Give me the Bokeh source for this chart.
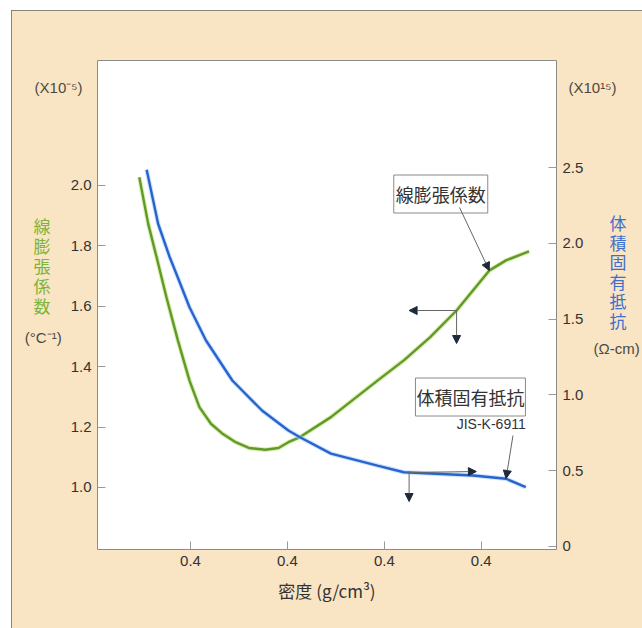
from bokeh.plotting import figure
from bokeh.models import (Range1d, LinearAxis, FixedTicker, Label, Arrow, NormalHead,
                          InlineStyleSheet)
from bokeh.embed import file_html
from bokeh.resources import INLINE

# ---------------- data ----------------
x_ticks = [1, 2, 3, 4]
x_tick_labels = ["0.4", "0.4", "0.4", "0.4"]
left_ticks = [1.0, 1.2, 1.4, 1.6, 1.8, 2.0]
left_tick_labels = ["1.0", "1.2", "1.4", "1.6", "1.8", "2.0"]
right_ticks = [0, 0.5, 1.0, 1.5, 2.0, 2.5]
right_tick_labels = ["0", "0.5", "1.0", "1.5", "2.0", "2.5"]

# linear expansion coefficient (left axis, x10^-5 /°C)
expansion_x = [0.472, 0.564, 0.650, 0.752, 0.870, 0.990, 1.092, 1.211, 1.327, 1.466,
               1.602, 1.772, 1.908, 2.010, 2.130, 2.449, 2.929, 3.201, 3.473, 3.745,
               4.085, 4.255, 4.493]
expansion_y = [2.027, 1.873, 1.763, 1.630, 1.487, 1.354, 1.266, 1.211, 1.179, 1.150,
               1.131, 1.125, 1.131, 1.150, 1.167, 1.233, 1.354, 1.421, 1.498, 1.586,
               1.719, 1.752, 1.782]

# volume resistivity (right axis, x10^15 ohm-cm)
resist_x = [0.548, 0.666, 0.786, 0.854, 0.990, 1.160, 1.432, 1.738, 2.010, 2.130,
            2.449, 2.929, 3.201, 3.915, 4.255, 4.459]
resist_y = [2.485, 2.129, 1.908, 1.799, 1.578, 1.359, 1.095, 0.897, 0.765, 0.721,
            0.613, 0.534, 0.490, 0.468, 0.447, 0.391]

# ---------------- layout helpers ----------------
W, H = 642, 628
FL, FT, FR, FB = 97, 60, 561, 549          # frame edges in page px
X0, X1 = 0.0408, 4.776
YL0, YL1 = 0.7947, 2.4139
YR0, YR1 = -0.0198, 3.206


def dx(px):
    return X0 + (px - FL) / (FR - FL) * (X1 - X0)


def dy(py):
    return YL0 + (FB - py) / (FB - FT) * (YL1 - YL0)


BEIGE = "#f9e4c4"
GREEN = "#5e9a2c"
BLUE = "#2b63cc"
NUM_FONT = "Liberation Sans"
CJK_FONT = "Noto Sans CJK JP"
NB = "\u00a0"

page_css = InlineStyleSheet(css="""
:host { position: relative; }
:host::before { content: ""; position: absolute; left: 0; top: 0; right: 0; bottom: 0;
  box-sizing: border-box; border-top: 10px solid #ffffff; border-left: 11px solid #ffffff;
  pointer-events: none; z-index: 5; }
:host::after { content: ""; position: absolute; left: 11px; top: 10px; right: 0; bottom: 0;
  box-sizing: border-box; border-top: 1.5px solid #85857a; border-left: 1.5px solid #85857a;
  pointer-events: none; z-index: 6; }
""")

p = figure(width=W, height=H, output_backend="svg", toolbar_location=None,
           x_range=Range1d(X0, X1), y_range=Range1d(YL0, YL1),
           min_border_left=FL, min_border_top=FT,
           min_border_right=W - FR, min_border_bottom=H - FB,
           stylesheets=[page_css])
p.extra_y_ranges = {"right": Range1d(YR0, YR1)}
p.background_fill_color = "white"
p.border_fill_color = BEIGE
p.outline_line_color = "#8c8c8c"
p.outline_line_width = 1
p.grid.visible = False

raxis = LinearAxis(y_range_name="right")
p.add_layout(raxis, "right")

for ax in [p.xaxis[0], p.yaxis[0], raxis]:
    ax.axis_line_color = None
    ax.major_tick_in = 8
    ax.major_tick_out = 0
    ax.major_tick_line_color = "#9a9a9a"
    ax.minor_tick_line_color = None
    ax.major_label_text_font = NUM_FONT
    ax.major_label_text_font_size = "15px"
    ax.major_label_text_color = "#333333"
    ax.major_label_standoff = 6

p.xaxis[0].ticker = FixedTicker(ticks=x_ticks)
p.xaxis[0].major_label_overrides = {t: l for t, l in zip(x_ticks, x_tick_labels)}
p.xaxis[0].axis_label = "密度 (g/cm³)"
p.xaxis[0].axis_label_text_font = CJK_FONT
p.xaxis[0].axis_label_text_font_size = "17px"
p.xaxis[0].axis_label_text_font_style = "normal"
p.xaxis[0].axis_label_text_color = "#333333"
p.xaxis[0].axis_label_standoff = 9
p.yaxis[0].ticker = FixedTicker(ticks=left_ticks)
p.yaxis[0].major_label_overrides = {t: l for t, l in zip(left_ticks, left_tick_labels)}
raxis.ticker = FixedTicker(ticks=right_ticks)
raxis.major_label_overrides = {t: l for t, l in zip(right_ticks, right_tick_labels)}


def label_axis(side, ys, texts, font, size, color, standoff, range_name="default"):
    ax = LinearAxis(y_range_name=range_name, ticker=FixedTicker(ticks=ys),
                    major_label_overrides={t: s for t, s in zip(ys, texts)})
    ax.axis_line_color = None
    ax.major_tick_line_color = None
    ax.minor_tick_line_color = None
    ax.major_label_text_font = font
    ax.major_label_text_font_size = size
    ax.major_label_text_color = color
    ax.major_label_standoff = standoff
    p.add_layout(ax, side)
    return ax


# left side: vertical title (one character per row), then unit texts
label_axis("left", [dy(225 + 20 * i) for i in range(5)], list("線膨張係数"),
           CJK_FONT, "17px", "#7cb53a", 11)
label_axis("left", [dy(87), dy(337)], ["(X10⁻⁵)", "(°C⁻¹)" + NB * 5],
           NUM_FONT, "15px", "#4a4a40", -58)

# right side
label_axis("right", [dy(222 + 19.5 * i) for i in range(6)], list("体積固有抵抗"),
           CJK_FONT, "17px", "#3f6fcc", 17)
label_axis("right", [dy(87), dy(348)], ["(X10¹⁵)", NB * 6 + "(Ω-cm)"],
           NUM_FONT, "15px", "#4a4a40", -67)

# curves
p.line(expansion_x, expansion_y, line_color="#c9e27a", line_width=4.5, line_alpha=0.6)
p.line(expansion_x, expansion_y, line_color=GREEN, line_width=2.4)
p.line(resist_x, resist_y, y_range_name="right", line_color="#a9d4ff", line_width=4.5, line_alpha=0.6)
p.line(resist_x, resist_y, y_range_name="right", line_color=BLUE, line_width=2.4)

# boxed annotations
p.add_layout(Label(x=dx(444), y=dy(193.5), text="線膨張係数", text_align="center", text_baseline="middle",
                   text_font=CJK_FONT, text_font_size="18px", text_color="#333333",
                   background_fill_color="white", border_line_color="#8a8a8a", border_line_width=1,
                   padding=(2, 6)))
p.add_layout(Label(x=dx(474), y=dy(396.5), text="体積固有抵抗", text_align="center", text_baseline="middle",
                   text_font=CJK_FONT, text_font_size="18px", text_color="#333333",
                   background_fill_color="white", border_line_color="#8a8a8a", border_line_width=1,
                   padding=(1, 6)))
p.add_layout(Label(x=dx(495), y=dy(423), text="JIS-K-6911", text_align="center", text_baseline="middle",
                   text_font=NUM_FONT, text_font_size="14px", text_color="#333333"))


# arrows
def arrow(x0, y0, x1, y1, col="#666666"):
    p.add_layout(Arrow(x_start=dx(x0), y_start=dy(y0), x_end=dx(x1), y_end=dy(y1),
                       line_color=col, line_width=1,
                       end=NormalHead(size=8, fill_color="#1e2a3a", line_color="#1e2a3a")))


arrow(463, 207, 493, 270)
arrow(460, 310, 412, 310)
arrow(460, 310, 460, 343)
arrow(517, 435, 510, 478)
arrow(412, 472, 480, 471)
arrow(412, 472, 412, 501)

open("out.html", "w").write(file_html(p, INLINE))
